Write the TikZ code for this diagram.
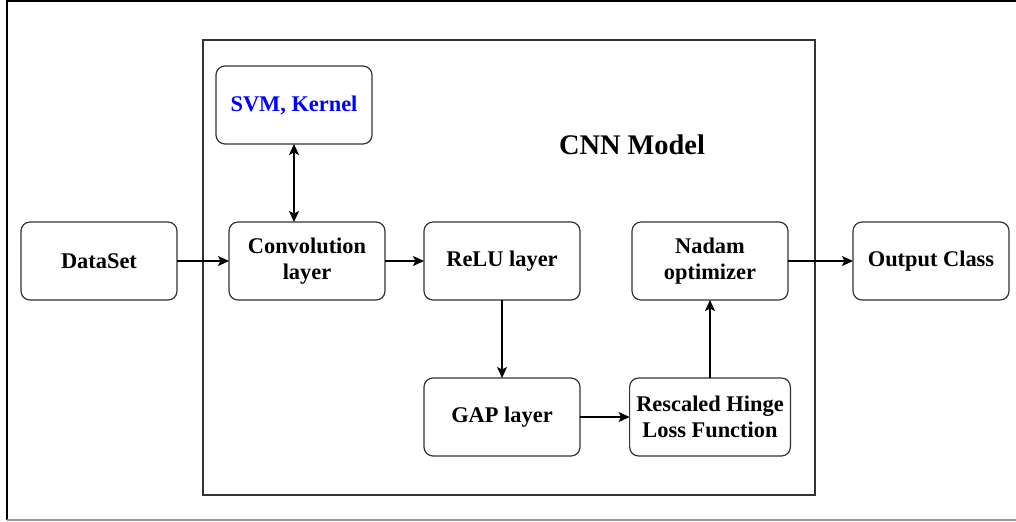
\documentclass[tikz,border=0pt]{standalone}
\usepackage{fontspec}
\setmainfont{Liberation Serif}
\usepackage{xcolor}
\usepackage{tikz}
\usetikzlibrary{arrows.meta,positioning}
\definecolor{kernelblue}{HTML}{0000FF}
\definecolor{edgegray}{HTML}{333333}

\begin{document}
\begin{tikzpicture}[
  x=0.5pt,y=-0.5pt,
  node distance=19.5pt and 26pt,
  box/.style={draw=edgegray,line width=0.6pt,rounded corners=4.5pt,minimum height=39pt,
              minimum width=78pt,align=center,fill=white,outer sep=0pt,
              font=\fontsize{11.2}{13.3}\selectfont\bfseries},
  arrow/.style={-{Stealth[length=5.5pt,width=5pt,inset=1.2pt]},line width=0.65pt,draw=black}
]
  \useasboundingbox (0,0) rectangle (1016,521);
  % page frame, open on the right
  \draw[line width=1pt] (1016,1) -- (7,1) -- (7,520);
  \draw[line width=1pt,black!40] (7,520) -- (1016,520);
  % model container
  \draw[edgegray,line width=0.7pt] (203,40) rectangle (815,495);
  \node[font=\fontsize{14.2}{17}\selectfont\bfseries] (title) at (632,145) {CNN Model};

  \node[box,anchor=west] (data) at (21,261) {DataSet};
  \node[box,right=of data] (conv) {Convolution\\layer};
  \node[box,right=19.5pt of conv] (relu) {ReLU layer};
  \node[box,right=of relu] (nadam) {Nadam\\optimizer};
  \node[box,right=32.5pt of nadam] (output) {Output Class};
  \node[box,above=39pt of conv,xshift=-6.5pt,text=kernelblue] (svm) {SVM, Kernel};
  \node[box,below=39pt of relu] (gap) {GAP layer};
  \node[box,below=39pt of nadam] (hinge) {Rescaled Hinge\\Loss Function};

  \draw[arrow] (data) -- (conv);
  \draw[arrow,{Stealth[length=5.5pt,width=5pt,inset=1.2pt]}-{Stealth[length=5.5pt,width=5pt,inset=1.2pt]}]
    (svm.south) -- (svm.south |- conv.north);
  \draw[arrow] (conv) -- (relu);
  \draw[arrow] (relu) -- (gap);
  \draw[arrow] (gap) -- (hinge);
  \draw[arrow] (hinge) -- (nadam);
  \draw[arrow] (nadam) -- (output);
\end{tikzpicture}
\end{document}
